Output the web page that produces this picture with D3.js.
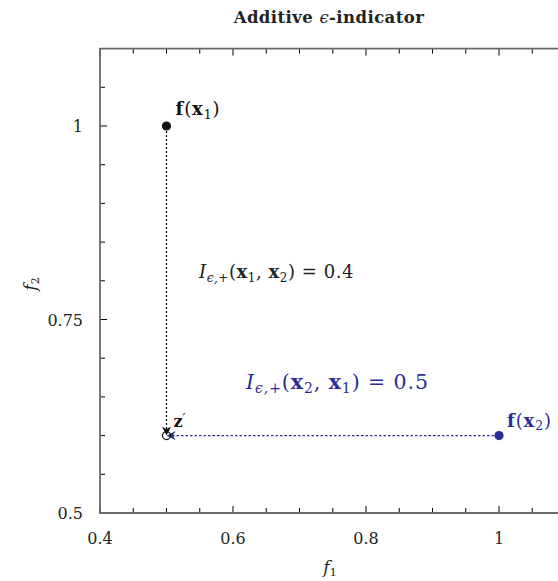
<!DOCTYPE html>
<html><head><meta charset="utf-8">
<script src="https://cdn.jsdelivr.net/npm/d3@7"></script>
<style>body{margin:0;background:#fff}svg{display:block}</style>
</head><body>
<script>
const xDomain = [0.4, 1.1];
const yDomain = [0.5, 1.1];
const xTickLabels = [0.4, 0.6, 0.8, 1];
const yTickLabels = [0.5, 0.75, 1];
const pointNames = ["f(x1)", "f(x2)", "z'"];
const pointF1 = [0.5, 1.0, 0.5];
const pointF2 = [1.0, 0.6, 0.6];
const epsValues = [0.4, 0.5];

const W = 558, H = 581;
const BLUE = "#2b2b9a";
const FONT = "DejaVu Serif";
const svg = d3.select("body").append("svg").attr("width", W).attr("height", H)
  .attr("font-family", FONT);

const x = d3.scaleLinear().domain(xDomain).range([100, 565.5]);
const y = d3.scaleLinear().domain(yDomain).range([513, 48.6]);

function fitWidth(t, target) {
  const w = t.node().getBBox().width;
  const n = t.text().length;
  if (n > 1) t.attr("letter-spacing", ((target - w) / n).toFixed(2));
}

const defs = svg.append("defs");
function marker(id, color) {
  defs.append("marker").attr("id", id).attr("viewBox", "0 0 10 10")
    .attr("refX", 9).attr("refY", 5).attr("markerWidth", 9).attr("markerHeight", 9)
    .attr("markerUnits", "userSpaceOnUse").attr("orient", "auto")
    .append("path").attr("d", "M0,0 L10,5 L0,10 L3,5 Z").attr("fill", color);
}
marker("arrB", "#000");
marker("arrU", BLUE);

// title
const title = svg.append("text").attr("x", 329).attr("y", 23).attr("text-anchor", "middle")
  .attr("font-size", 16.5).attr("font-weight", "bold").attr("fill", "#222");
title.append("tspan").text("Additive ");
title.append("tspan").attr("font-style", "italic").attr("font-weight", "normal").text("ϵ");
title.append("tspan").text("-indicator");
fitWidth(title, 192);

// minor + major ticks
const xMinor = d3.range(0.4, 1.1001, 0.05).map(v => +v.toFixed(2));
const yMinor = d3.range(0.5, 1.1001, 0.05).map(v => +v.toFixed(2));
const isMajorX = v => xTickLabels.some(t => Math.abs(t - v) < 1e-6);
const isMajorY = v => yTickLabels.some(t => Math.abs(t - v) < 1e-6);

const ticks = svg.append("g").attr("stroke", "#000").attr("stroke-width", 1);
xMinor.forEach(v => {
  const L = isMajorX(v) ? 7 : 5;
  ticks.append("line").attr("x1", x(v)).attr("x2", x(v)).attr("y1", y(0.5)).attr("y2", y(0.5) - L);
  ticks.append("line").attr("x1", x(v)).attr("x2", x(v)).attr("y1", y(1.1)).attr("y2", y(1.1) + L);
});
yMinor.forEach(v => {
  const L = isMajorY(v) ? 7 : 5;
  ticks.append("line").attr("x1", x(0.4)).attr("x2", x(0.4) + L).attr("y1", y(v)).attr("y2", y(v));
});

// frame
svg.append("path")
  .attr("d", `M${x(1.1)},${y(1.1)} L${x(0.4)},${y(1.1)} L${x(0.4)},${y(0.5)} L${x(1.1)},${y(0.5)}`)
  .attr("fill", "none").attr("stroke", "#6a6a6a").attr("stroke-width", 1.8);

// tick labels
xTickLabels.forEach(v => {
  svg.append("text").attr("x", x(v)).attr("y", 544).attr("text-anchor", "middle")
    .attr("font-size", 16).attr("fill", "#222").text(String(v));
});
yTickLabels.forEach(v => {
  svg.append("text").attr("x", 83).attr("y", y(v) + 6).attr("text-anchor", "end")
    .attr("font-size", 16).attr("fill", "#222").text(String(v));
});

// axis labels
const xl = svg.append("text").attr("x", 330).attr("y", 573).attr("text-anchor", "middle")
  .attr("font-size", 17).attr("fill", "#222");
xl.append("tspan").attr("font-style", "italic").text("f");
xl.append("tspan").attr("font-size", 11).attr("dy", 3).text("1");
const yl = svg.append("text").attr("transform", "translate(36,284) rotate(-90)")
  .attr("text-anchor", "middle").attr("font-size", 17).attr("fill", "#222");
yl.append("tspan").attr("font-style", "italic").text("f");
yl.append("tspan").attr("font-size", 11).attr("dy", 3).text("2");

// arrows
svg.append("line").attr("x1", x(pointF1[0])).attr("y1", y(pointF2[0]) + 5)
  .attr("x2", x(pointF1[2])).attr("y2", y(pointF2[2]) - 1)
  .attr("stroke", "#000").attr("stroke-width", 1.2).attr("stroke-dasharray", "2,2")
  .attr("marker-end", "url(#arrB)");
svg.append("line").attr("x1", x(pointF1[1]) - 5).attr("y1", y(pointF2[1]))
  .attr("x2", x(pointF1[2]) + 1).attr("y2", y(pointF2[2]))
  .attr("stroke", BLUE).attr("stroke-width", 1.3).attr("stroke-dasharray", "2.5,2")
  .attr("marker-end", "url(#arrU)");

// points
svg.append("circle").attr("cx", x(pointF1[0])).attr("cy", y(pointF2[0])).attr("r", 4.6).attr("fill", "#111");
svg.append("circle").attr("cx", x(pointF1[1])).attr("cy", y(pointF2[1])).attr("r", 4.6).attr("fill", BLUE);
svg.append("circle").attr("cx", x(pointF1[2])).attr("cy", y(pointF2[2])).attr("r", 4).attr("fill", "none")
  .attr("stroke", "#111").attr("stroke-width", 1.2);

// math label helper
function fLabel(px, py, sub, color) {
  const t = svg.append("text").attr("x", px).attr("y", py).attr("font-size", 18).attr("fill", color);
  t.append("tspan").attr("font-weight", "bold").text("f");
  t.append("tspan").text("(");
  t.append("tspan").attr("font-weight", "bold").text("x");
  t.append("tspan").attr("font-size", 12.5).attr("dy", 3.5).text(sub);
  t.append("tspan").attr("dy", -3.5).text(")");
  fitWidth(t, 45);
}
fLabel(x(pointF1[0]) + 9, y(pointF2[0]) - 11, "1", "#111");
fLabel(x(pointF1[1]) + 8, y(pointF2[1]) - 9, "2", BLUE);

const zl = svg.append("text").attr("x", x(pointF1[2]) + 7).attr("y", y(pointF2[2]) - 9)
  .attr("font-size", 16).attr("font-weight", "bold").attr("fill", "#111");
zl.append("tspan").text("z");
zl.append("tspan").attr("font-size", 13).attr("dy", -4).attr("font-weight", "normal").text("′");

function iLabel(px, py, a, b, val, color, fs, target) {
  const s = Math.round(fs * 0.68);
  const t = svg.append("text").attr("x", px).attr("y", py).attr("font-size", fs).attr("fill", color);
  t.append("tspan").attr("font-style", "italic").text("I");
  t.append("tspan").attr("font-size", s).attr("dy", 4).attr("font-style", "italic").text("ϵ,+");
  t.append("tspan").attr("dy", -4).text("(");
  t.append("tspan").attr("font-weight", "bold").text("x");
  t.append("tspan").attr("font-size", s).attr("dy", 3.5).text(a);
  t.append("tspan").attr("dy", -3.5).text(", ");
  t.append("tspan").attr("font-weight", "bold").text("x");
  t.append("tspan").attr("font-size", s).attr("dy", 3.5).text(b);
  t.append("tspan").attr("dy", -3.5).text(") = " + val);
  fitWidth(t, target);
}
iLabel(199, 278, "1", "2", epsValues[0], "#222", 18, 156);
iLabel(246, 389, "2", "1", epsValues[1], BLUE, 20.5, 184);
</script>
</body></html>
